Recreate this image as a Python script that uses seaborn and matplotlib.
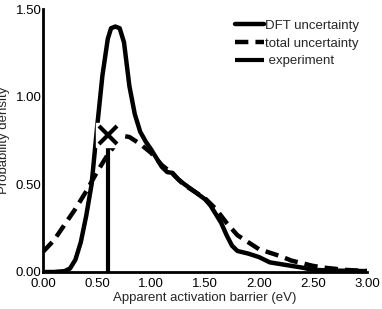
import numpy as np
import pandas as pd
import matplotlib
matplotlib.use("Agg")
import matplotlib.pyplot as plt
import seaborn as sns

# ---- data ----
dft_x = [0.0, 0.1, 0.2, 0.25, 0.3, 0.35, 0.4, 0.45, 0.5, 0.55, 0.6, 0.63, 0.67, 0.71, 0.75,
         0.8, 0.85, 0.9, 0.95, 1.0, 1.05, 1.1, 1.15, 1.2, 1.25, 1.3, 1.4, 1.5, 1.55,
         1.6, 1.65, 1.7, 1.75, 1.8, 1.9, 2.0, 2.1, 2.2, 2.3, 2.4, 2.5, 2.7, 3.0]
dft_y = [0.0, 0.0, 0.005, 0.02, 0.07, 0.17, 0.32, 0.50, 0.82, 1.12, 1.33, 1.39, 1.40, 1.39, 1.31,
         1.06, 0.90, 0.80, 0.745, 0.70, 0.65, 0.60, 0.57, 0.565, 0.53, 0.505, 0.46, 0.415, 0.38,
         0.33, 0.28, 0.21, 0.15, 0.12, 0.105, 0.085, 0.055, 0.045, 0.035, 0.025, 0.012, 0.008, 0.005]

tot_x = [0.0, 0.1, 0.2, 0.3, 0.4, 0.5, 0.6, 0.7, 0.75, 0.8, 0.85, 0.9, 1.0, 1.1, 1.2, 1.3,
         1.4, 1.5, 1.6, 1.7, 1.8, 1.9, 2.0, 2.1, 2.2, 2.3, 2.4, 2.5, 2.6, 2.8, 3.0]
tot_y = [0.115, 0.18, 0.27, 0.36, 0.46, 0.57, 0.67, 0.75, 0.775, 0.77, 0.75, 0.73, 0.68, 0.61,
         0.56, 0.50, 0.46, 0.42, 0.36, 0.28, 0.21, 0.17, 0.13, 0.11, 0.09, 0.065, 0.05, 0.035,
         0.025, 0.012, 0.006]

exp_x = 0.6
exp_y = 0.78

x_ticks = [0.0, 0.5, 1.0, 1.5, 2.0, 2.5, 3.0]
y_ticks = [0.0, 0.5, 1.0, 1.5]

sns.set_style("white")
plt.rcParams['font.family'] = ['Liberation Sans', 'DejaVu Sans']

fig = plt.figure(figsize=(3.82, 3.09), dpi=100)
ax = fig.add_axes([43/382, 37/309, 324/382, 263/309])

dft = pd.DataFrame({"x": dft_x, "y": dft_y})
tot = pd.DataFrame({"x": tot_x, "y": tot_y})

sns.lineplot(data=dft, x="x", y="y", ax=ax, color="black", lw=3.2,
             label="DFT uncertainty", zorder=3)
sns.lineplot(data=tot, x="x", y="y", ax=ax, color="black", lw=3.2,
             label="total uncertainty", zorder=3)
ax.lines[1].set_dashes([3.0, 1.6])

# experiment
ax.plot([exp_x, exp_x], [0, exp_y - 0.03], color="black", lw=3.0,
        label=" experiment", zorder=4, solid_capstyle="butt")
ax.plot([exp_x], [exp_y], marker="s", ms=17, color="white", mec="white", zorder=5)
ax.plot([exp_x], [exp_y], marker="x", ms=13, mew=3.0, color="black", zorder=6)

ax.set_xlim(0, 3.0)
ax.set_ylim(0, 1.5)
ax.set_xticks(x_ticks)
ax.set_yticks(y_ticks)
ax.set_xticklabels([f"{v:.2f}" for v in x_ticks])
ax.set_yticklabels([f"{v:.2f}" for v in y_ticks])
ax.tick_params(direction="in", length=3, width=1, labelsize=9.5, colors="black")
ax.tick_params(axis="x", pad=4.5)
ax.tick_params(axis="y", pad=1)
ax.set_xlabel("Apparent activation barrier (eV)", fontsize=9.5, labelpad=1.5)
ax.set_ylabel("Probability density", fontsize=9.5, labelpad=4)

for s in ["top", "right"]:
    ax.spines[s].set_visible(False)
for s in ["left", "bottom"]:
    ax.spines[s].set_linewidth(2)
    ax.spines[s].set_color("black")

leg = ax.legend(loc="upper right", bbox_to_anchor=(1.0, 0.99), frameon=False,
                fontsize=9.5, handlelength=2.2, handletextpad=0.1,
                labelspacing=0.42, borderaxespad=0.2)

fig.savefig("out.png", dpi=100)
